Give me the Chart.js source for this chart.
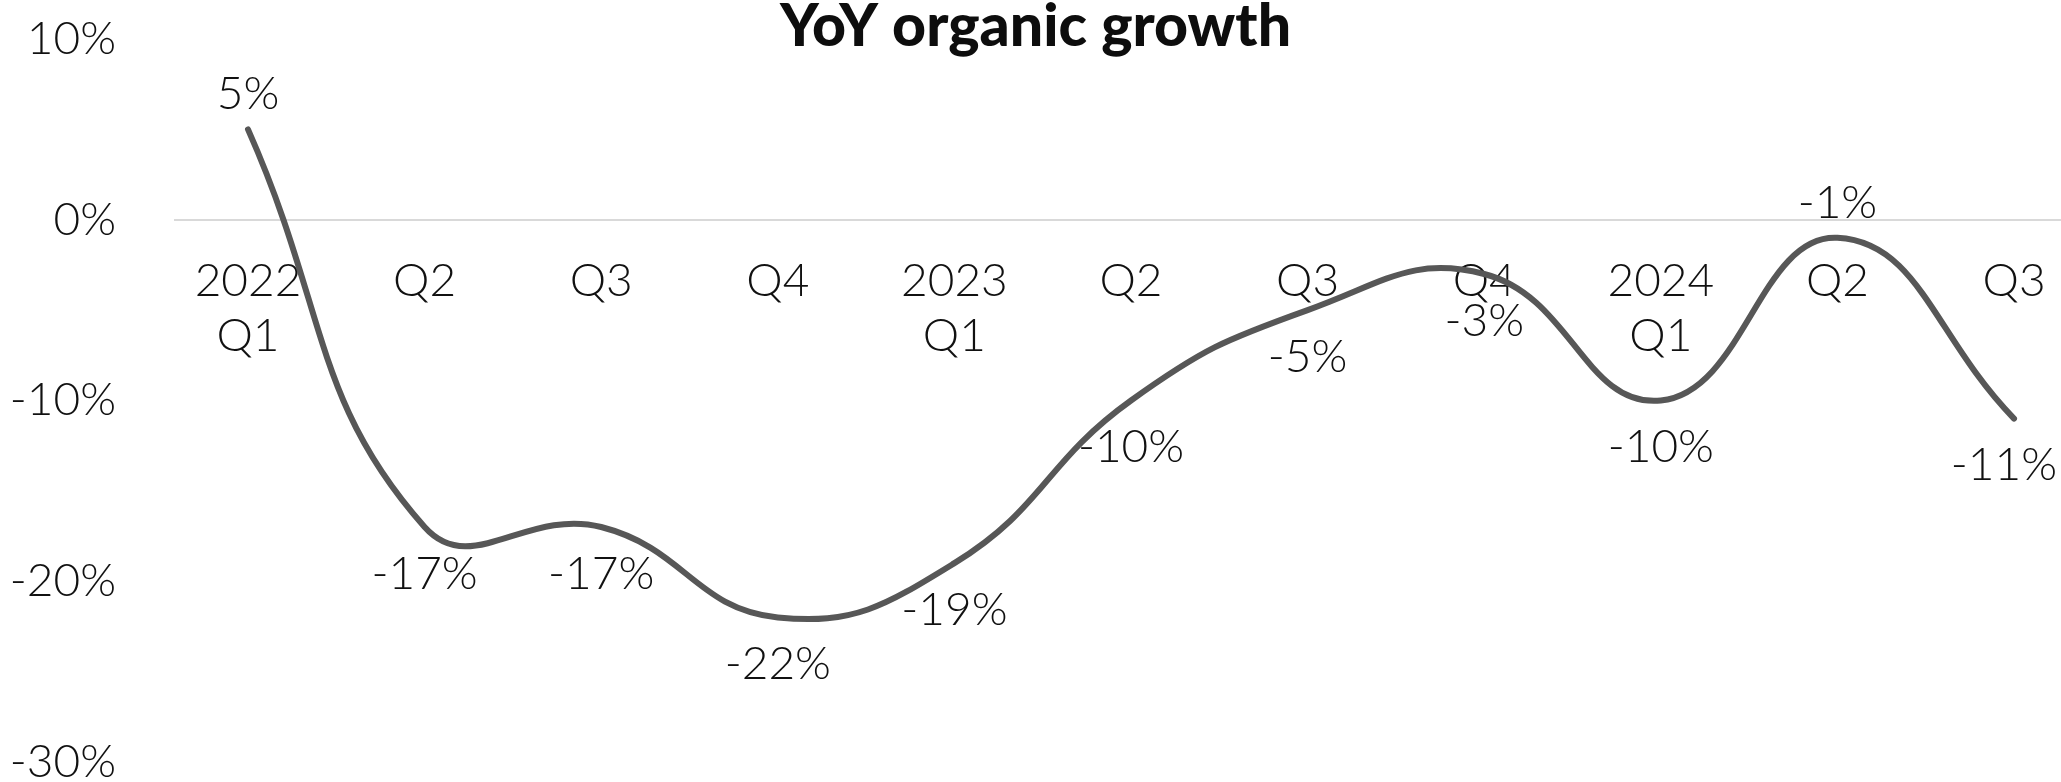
<!DOCTYPE html>
<html>
<head>
<meta charset="utf-8">
<title>YoY organic growth</title>
<script src="https://cdn.jsdelivr.net/npm/chart.js@4/dist/chart.umd.min.js"></script>
<style>
  html, body { margin: 0; padding: 0; background: #fff; }
  canvas { display: block; }
</style>
</head>
<body>
<canvas id="growthChart" width="2061" height="782"></canvas>
<script>
// quarterly year-over-year organic growth, in percent
const quarterLabels = [
  ['2022', 'Q1'], ['Q2'], ['Q3'], ['Q4'],
  ['2023', 'Q1'], ['Q2'], ['Q3'], ['Q4'],
  ['2024', 'Q1'], ['Q2'], ['Q3']
];
const growthValues = [5, -17, -17, -22, -19, -10, -5, -3, -10, -1, -11];
const yTicks = [-30, -20, -10, 0, 10];

const FONT = 'Lato, "Noto Sans", sans-serif';

const points = growthValues.map((v, i) => ({ x: i, y: v }));

// title drawn over the top of the plot
const titlePlugin = {
  id: 'topTitle',
  afterDraw(chart) {
    const ctx = chart.ctx;
    ctx.save();
    ctx.font = '900 59px ' + FONT;
    ctx.fillStyle = '#0d0d0d';
    ctx.textAlign = 'center';
    ctx.textBaseline = 'alphabetic';
    ctx.fillText('YoY organic growth', chart.width / 2 + 5, 46);
    ctx.restore();
  }
};

// value labels next to each point, kept inside the canvas
const valueLabels = {
  id: 'valueLabels',
  afterDatasetsDraw(chart, args, opts) {
    const ctx = chart.ctx;
    const meta = chart.getDatasetMeta(0);
    ctx.save();
    ctx.font = '300 46px ' + FONT;
    ctx.fillStyle = '#111';
    ctx.textAlign = 'center';
    ctx.textBaseline = 'middle';
    meta.data.forEach((pt, i) => {
      const text = growthValues[i] + '%';
      const half = ctx.measureText(text).width / 2;
      const x = Math.min(pt.x, chart.width - half - 4);
      const above = opts.above.includes(i);
      const y = above ? pt.y - opts.gapAbove : pt.y + opts.gapBelow;
      ctx.fillText(text, x, y);
    });
    ctx.restore();
  }
};

new Chart(document.getElementById('growthChart'), {
  type: 'line',
  data: {
    datasets: [{
      data: points,
      borderColor: '#575757',
      borderWidth: 6,
      borderCapStyle: 'round',
      tension: 0.45,
      pointRadius: 0,
      fill: false
    }]
  },
  options: {
    responsive: false,
    animation: false,
    layout: { padding: { top: 39, bottom: 20, left: 0, right: 0 } },
    plugins: {
      legend: { display: false },
      tooltip: { enabled: false },
      valueLabels: { above: [0, 9], gapAbove: 35, gapBelow: 47 }
    },
    scales: {
      x: {
        type: 'linear',
        position: { y: 0 },
        min: -0.419,
        max: 10.266,
        afterFit: (scale) => {
          scale.paddingLeft = 0;
          scale.paddingRight = 0;
        },
        grid: { display: false, drawTicks: false },
        border: { display: false },
        ticks: {
          stepSize: 1,
          includeBounds: false,
          autoSkip: false,
          maxRotation: 0,
          padding: 34,
          color: '#111',
          font: { family: FONT, size: 46, weight: 300, lineHeight: 1.2 },
          callback: (v) => quarterLabels[v] || ''
        }
      },
      y: {
        min: yTicks[0],
        max: yTicks[yTicks.length - 1],
        afterBuildTicks: (scale) => { scale.ticks = yTicks.map(v => ({ value: v })); },
        afterFit: (scale) => {
          // fixed gutter for the labels; the end labels may overhang the plot
          scale.width = 174;
          scale.paddingTop = 0;
          scale.paddingBottom = 0;
        },
        grid: {
          drawTicks: false,
          lineWidth: 2,
          color: (c) => c.tick && c.tick.value === 0 ? '#d9d9d9' : 'rgba(0,0,0,0)'
        },
        border: { display: false },
        ticks: {
          padding: 58,
          color: '#111',
          font: { family: FONT, size: 46, weight: 300 },
          callback: (v) => v + '%'
        }
      }
    }
  },
  plugins: [titlePlugin, valueLabels]
});
</script>
</body>
</html>
